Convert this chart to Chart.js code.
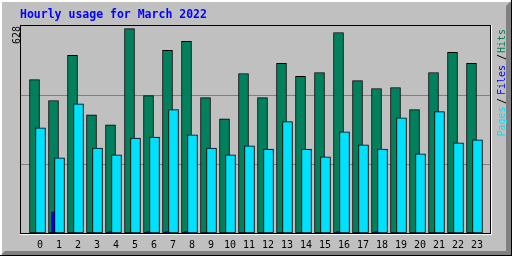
<!DOCTYPE html>
<html>
<head>
<meta charset="utf-8">
<script src="https://cdn.jsdelivr.net/npm/chart.js@4/dist/chart.umd.min.js"></script>
<style>
  html, body { margin: 0; padding: 0; background: #c0c0c0; }
  canvas { display: block; }
</style>
</head>
<body>
<canvas id="chart" width="512" height="256"></canvas>
<script>
// Hourly usage for March 2022 (webalizer style)
const hours = ['0','1','2','3','4','5','6','7','8','9','10','11',
               '12','13','14','15','16','17','18','19','20','21','22','23'];
const hits  = [471, 407, 546, 363, 332, 628, 422, 561, 589, 416, 351, 490,
               416, 521, 481, 493, 616, 468, 444, 447, 379, 493, 555, 521];
const files = [0, 65, 0, 0, 4, 0, 4, 4, 4, 0, 0, 0,
               0, 0, 0, 0, 4, 0, 4, 0, 0, 0, 0, 0];
const pages = [323, 231, 397, 261, 240, 292, 295, 379, 302, 261, 240, 268,
               258, 342, 258, 234, 311, 271, 258, 354, 243, 373, 277, 286];

const titleText = 'Hourly usage for March 2022';
const maxLabel = '628';
const yTop = 636;      // value at the top of the plot frame
const gridStep = 212;  // three bands

const COLORS = {
    hits: '#00805c',
    files: '#0000ff',
    pages: '#00e0ff',
    back: '#c0c0c0',
    grid: '#808080',
};

// shift (in hours) of each series inside its hour slot, bars overlap like webalizer
const SHIFT = 3 / 19;

// ─── background, frame, grid and texts ─────────────────
const webalizerLook = {
    id: 'webalizerLook',
    beforeDraw(chart) {
        const ctx = chart.ctx;
        ctx.save();
        ctx.fillStyle = COLORS.back;
        ctx.fillRect(0, 0, 512, 256);
        // 3D outer border
        ctx.fillStyle = '#ffffff';
        ctx.fillRect(0, 0, 512, 2);
        ctx.fillRect(0, 0, 2, 256);
        ctx.fillStyle = '#808080';
        ctx.beginPath();
        ctx.moveTo(512, 0); ctx.lineTo(506, 6); ctx.lineTo(506, 251);
        ctx.lineTo(5, 251); ctx.lineTo(0, 256); ctx.lineTo(512, 256);
        ctx.closePath();
        ctx.fill();
        ctx.fillStyle = '#000000';
        ctx.fillRect(511, 0, 1, 256);
        ctx.fillRect(0, 255, 512, 1);
        ctx.restore();
    },
    beforeDatasetsDraw(chart) {
        const ctx = chart.ctx;
        const y = chart.scales.y;
        ctx.save();
        ctx.strokeStyle = COLORS.grid;
        ctx.lineWidth = 1;
        for (let v = gridStep; v < yTop; v += gridStep) {
            const py = Math.round(y.getPixelForValue(v)) + 0.5;
            ctx.beginPath();
            ctx.moveTo(21, py);
            ctx.lineTo(490, py);
            ctx.stroke();
        }
        ctx.restore();
    },
    afterDraw(chart) {
        const ctx = chart.ctx;
        ctx.save();
        // plot frame
        ctx.lineWidth = 1;
        ctx.strokeStyle = '#000000';
        ctx.strokeRect(20.5, 25.5, 470, 208);
        ctx.strokeStyle = '#ffffff';
        ctx.beginPath();
        ctx.moveTo(491.5, 25);
        ctx.lineTo(491.5, 234.5);
        ctx.lineTo(20, 234.5);
        ctx.stroke();

        // title
        ctx.font = 'bold 11.5px "DejaVu Sans Mono"';
        ctx.fillStyle = '#0000ff';
        ctx.textBaseline = 'alphabetic';
        ctx.textAlign = 'left';
        ctx.fillText(titleText, 20, 18);

        // max value, rotated
        ctx.font = '10px "DejaVu Sans Mono"';
        ctx.save();
        ctx.translate(19.5, 0);
        ctx.rotate(-Math.PI / 2);
        ctx.fillStyle = '#000000';
        ctx.fillText(maxLabel, -44, 0);
        ctx.restore();

        // legend, rotated
        const legend = [
            ['Pages', COLORS.pages, 136.5],
            ['/', '#000000', 104],
            ['Files', COLORS.files, 95],
            ['/', '#000000', 60],
            ['Hits', COLORS.hits, 53],
        ];
        ctx.translate(504.5, 0);
        ctx.rotate(-Math.PI / 2);
        legend.forEach(([txt, color, start]) => {
            ctx.fillStyle = color;
            ctx.fillText(txt, -start, 0);
        });
        ctx.restore();
    },
};

function shiftedAxis(shift) {
    return {
        type: 'linear',
        display: false,
        offset: false,
        bounds: 'data',
        min: -0.5 - shift,
        max: hours.length - 0.5 - shift,
    };
}

function barSet(label, data, color, axis) {
    return {
        label,
        data,
        xAxisID: axis,
        grouped: false,
        backgroundColor: color,
        borderColor: '#000000',
        borderWidth: 1,
        borderSkipped: false,
        barThickness: 10,
    };
}

new Chart(document.getElementById('chart'), {
    type: 'bar',
    data: {
        labels: hours,
        // first dataset is drawn on top
        datasets: [
            barSet('Pages', pages, COLORS.pages, 'xPages'),
            barSet('Files', files, COLORS.files, 'xFiles'),
            barSet('Hits', hits, COLORS.hits, 'xHits'),
        ],
    },
    plugins: [webalizerLook],
    options: {
        responsive: false,
        animation: false,
        layout: { padding: { left: 28, right: 28, top: 26, bottom: 0 } },
        plugins: {
            legend: { display: false },
            tooltip: { enabled: false },
            title: { display: false },
        },
        scales: {
            x: {
                type: 'category',
                offset: true,
                grid: { display: false, drawTicks: false },
                border: { display: false },
                ticks: {
                    color: '#000000',
                    font: { family: 'DejaVu Sans Mono', size: 10 },
                    padding: 6,
                    labelOffset: 2.5,
                    maxRotation: 0,
                    autoSkip: false,
                },
                afterFit: s => { s.height = 23; },
            },
            xHits: shiftedAxis(-SHIFT),
            xFiles: shiftedAxis(0),
            xPages: shiftedAxis(SHIFT),
            y: {
                display: false,
                min: 0,
                max: yTop,
            },
        },
    },
});
</script>
</body>
</html>
